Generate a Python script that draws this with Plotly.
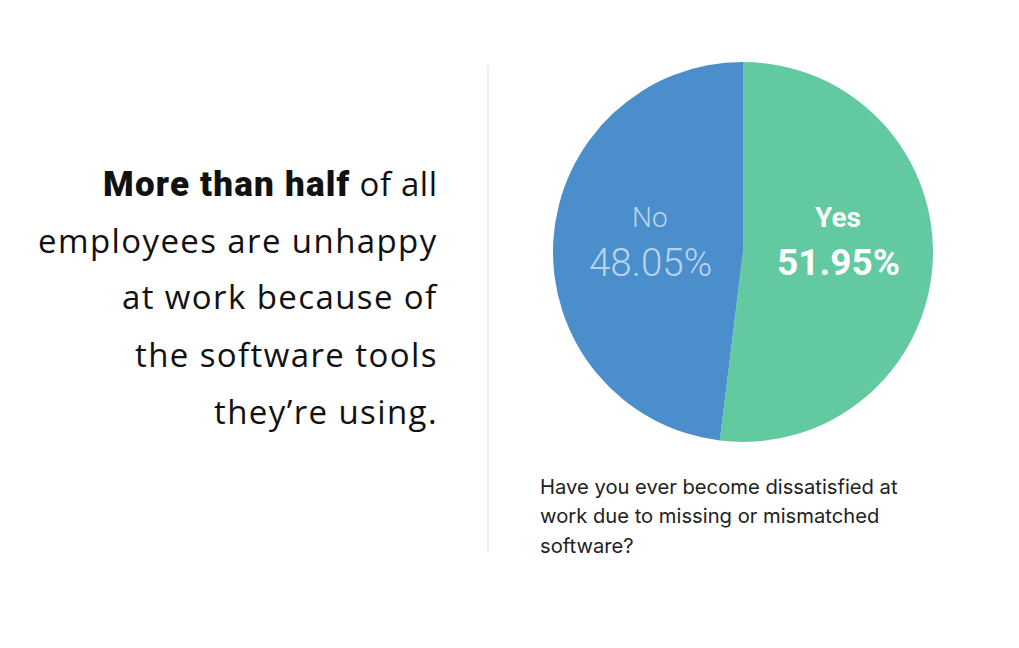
import plotly.graph_objects as go

labels = ["Yes", "No"]
values = [51.95, 48.05]
colors = ["#62C9A0", "#4A8FCB"]
headline_bold = "More than half"
headline_lines = [" of all", "employees are unhappy", "at work because of",
                  "the software tools", "they’re using."]
caption_lines = ["Have you ever become dissatisfied at", "work due to missing or mismatched", "software?"]

W, H = 1019, 648
cx, cy, r = 743, 252, 190

fig = go.Figure(go.Pie(
    labels=labels, values=values, sort=False, direction="clockwise", rotation=0,
    marker=dict(colors=colors, line=dict(width=0)),
    textinfo="none", hoverinfo="label+percent", showlegend=False,
    domain=dict(x=[(cx - r) / W, (cx + r) / W], y=[1 - (cy + r) / H, 1 - (cy - r) / H]),
))

ann = []
lab_pos = {"Yes": (838, "#ffffff", True), "No": (650, "rgba(200,222,242,0.9)", False)}
for lab, val in zip(labels, values):
    x, col, bold = lab_pos[lab]
    t1 = f"<b>{lab}</b>" if bold else lab
    t2 = f"<b>{val:.2f}%</b>" if bold else f"{val:.2f}%"
    w = 400 if bold else 300
    ann.append(dict(x=x / W, y=1 - 218 / H, text=t1,
                    font=dict(size=28, color=col, family="Roboto", weight=w),
                    showarrow=False, xref="paper", yref="paper", xanchor="center", yanchor="middle"))
    ann.append(dict(x=x / W, y=1 - 262 / H, text=t2,
                    font=dict(size=37 if bold else 38.5, color=col, family="Roboto", weight=w),
                    showarrow=False, xref="paper", yref="paper", xanchor="center", yanchor="middle"))

sp = "letter-spacing:1.4px"
for i, line in enumerate(headline_lines):
    txt = f'<span style="{sp}">{line}</span>'
    if i == 0:
        txt = ('<span style="font-family:Roboto;font-weight:900;font-size:35px;letter-spacing:1.2px">'
               f'{headline_bold}</span>' + f'<span style="letter-spacing:0.6px">{line}</span>')
    ann.append(dict(x=440 / W, y=1 - (183 + i * 57) / H, text=txt, showarrow=False,
                    xref="paper", yref="paper", xanchor="right", yanchor="middle",
                    font=dict(size=33, color="#111111", family="Open Sans")))

for i, line in enumerate(caption_lines):
    ann.append(dict(x=538 / W, y=1 - (486 + i * 29.5) / H, text=line, showarrow=False,
                    xref="paper", yref="paper", xanchor="left", yanchor="middle",
                    font=dict(size=20.2, color="#222222", family="Inter")))

fig.update_layout(
    width=W, height=H, margin=dict(l=0, r=0, t=0, b=0),
    paper_bgcolor="white", plot_bgcolor="white",
    annotations=ann,
    shapes=[dict(type="line", xref="paper", yref="paper", x0=488 / W, x1=488 / W,
                 y0=1 - 65 / H, y1=1 - 552 / H, line=dict(color="#dddddd", width=1))],
)
fig.write_html("out.html")
